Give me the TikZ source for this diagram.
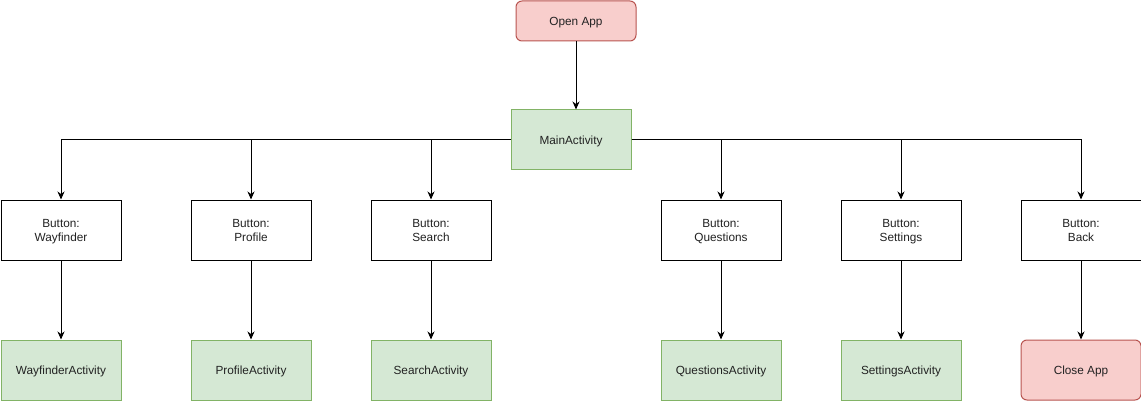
\documentclass[tikz,border=0pt]{standalone}
\usepackage{fontspec}
\setmainfont{Liberation Sans}
\usetikzlibrary{arrows.meta}
\definecolor{greenfill}{HTML}{D5E8D4}
\definecolor{greenline}{HTML}{82B366}
\definecolor{redfill}{HTML}{F8CECC}
\definecolor{redline}{HTML}{B85450}
\definecolor{textgray}{HTML}{222222}
\newcommand{\boxstrut}{\rule[-2.8pt]{0pt}{14pt}}
\begin{document}
\begin{tikzpicture}
[x=1pt,y=-1pt,
  boxdecorate/.style={shape=rectangle,minimum width=120pt,minimum height=60pt,
    inner sep=0pt,line width=1pt,align=center,text=textgray,
    font=\fontsize{11.8}{14}\selectfont},%
  buttonbox/.style={boxdecorate,draw=black,fill=white},%
  activitybox/.style={boxdecorate,draw=greenline,fill=greenfill},%
  appbox/.style={boxdecorate,draw=redline,fill=redfill,rounded corners=6pt},%
  linedecorate/.style={-{Stealth[length=8pt,width=7pt,inset=2.5pt]},line width=1pt}]
\useasboundingbox (0,0) rectangle (1141,401);
%% top of the chart
\node (open) at (576,21) [appbox,minimum height=40pt] {\boxstrut Open App};
\node (main) at (571,140) [activitybox] {\boxstrut MainActivity};
\draw[linedecorate] (open.south) -- (open.south |- main.north);
%% buttons and the activities they open
\foreach \nodename/\x/\side in {Wayfinder/61/west, Profile/251/west,
  Search/431/west, Questions/721/east, Settings/901/east} {
  \node (btn\nodename) at (\x,230) [buttonbox] {\boxstrut Button:\\\boxstrut\nodename};
  \node (act\nodename) at (\x,370) [activitybox] {\boxstrut\nodename Activity};
  \draw[linedecorate] (main.\side) -| (btn\nodename.north);
  \draw[linedecorate] (btn\nodename) -- (act\nodename);
}
%% the way out
\node (btnBack) at (1081,230) [buttonbox] {\boxstrut Button:\\\boxstrut Back};
\node (close) at (1081,370) [appbox] {\boxstrut Close App};
\draw[linedecorate] (main.east) -| (btnBack.north);
\draw[linedecorate] (btnBack) -- (close);
\end{tikzpicture}
\end{document}
